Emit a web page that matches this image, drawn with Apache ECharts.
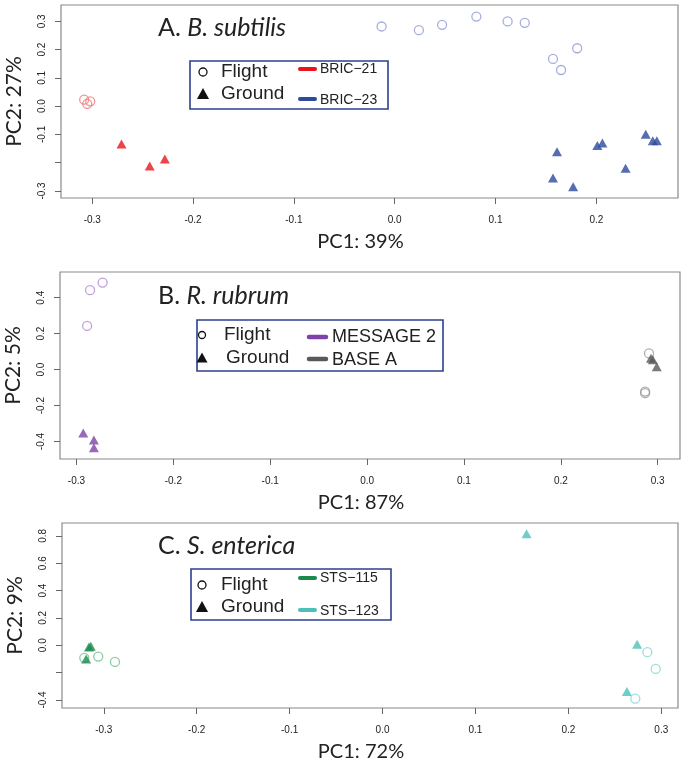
<!DOCTYPE html>
<html><head><meta charset="utf-8">
<script src="https://cdn.jsdelivr.net/npm/echarts@6/dist/echarts.min.js"></script>
<style>html,body{margin:0;padding:0;background:#fff}#c{width:685px;height:763px}</style>
</head><body><div id="c"></div><script>
// ---------- DATA ----------
// Panel A: B. subtilis
const aTitle = ['A. ', 'B. subtilis'];
const aXName = 'PC1: 39%';
const aYName = 'PC2: 27%';
const aXTicks = [-0.3, -0.2, -0.1, 0.0, 0.1, 0.2];
const aYTicks = [-0.3, -0.2, -0.1, 0.0, 0.1, 0.2, 0.3];
const aYLabels = [-0.3, -0.1, 0.0, 0.1, 0.2, 0.3];
const aGroups = ['BRIC\u221221', 'BRIC\u221223'];
const aBric21Flight = [[-0.308, 0.023], [-0.305, 0.008], [-0.302, 0.017]];
const aBric21Ground = [[-0.271, -0.134], [-0.243, -0.212], [-0.228, -0.187]];
const aBric23Flight = [[-0.013, 0.282], [0.024, 0.269], [0.047, 0.288], [0.081, 0.317], [0.112, 0.300], [0.129, 0.295], [0.157, 0.167], [0.165, 0.128], [0.181, 0.205]];
const aBric23Ground = [[0.249, -0.099], [0.256, -0.122], [0.260, -0.122], [0.201, -0.139], [0.206, -0.130], [0.161, -0.161], [0.229, -0.220], [0.157, -0.254], [0.177, -0.285]];

// Panel B: R. rubrum
const bTitle = ['B. ', 'R. rubrum'];
const bXName = 'PC1: 87%';
const bYName = 'PC2: 5%';
const bXTicks = [-0.3, -0.2, -0.1, 0.0, 0.1, 0.2, 0.3];
const bYTicks = [-0.4, -0.2, 0.0, 0.2, 0.4];
const bYLabels = [-0.4, -0.2, 0.0, 0.2, 0.4];
const bGroups = ['MESSAGE 2', 'BASE A'];
const bMessageFlight = [[-0.286, 0.442], [-0.273, 0.484], [-0.289, 0.243]];
const bMessageGround = [[-0.293, -0.353], [-0.282, -0.392], [-0.282, -0.434]];
const bBaseFlight = [[0.291, 0.090], [0.287, -0.122], [0.287, -0.131]];
const bBaseGround = [[0.293, 0.064], [0.295, 0.055], [0.299, 0.016]];

// Panel C: S. enterica
const cTitle = ['C. ', 'S. enterica'];
const cXName = 'PC1: 72%';
const cYName = 'PC2: 9%';
const cXTicks = [-0.3, -0.2, -0.1, 0.0, 0.1, 0.2, 0.3];
const cYTicks = [-0.4, -0.2, 0.0, 0.2, 0.4, 0.6, 0.8];
const cYLabels = [-0.4, 0.0, 0.2, 0.4, 0.6, 0.8];
const cGroups = ['STS\u2212115', 'STS\u2212123'];
const cSts115Flight = [[-0.321, -0.093], [-0.306, -0.083], [-0.288, -0.122]];
const cSts115Ground = [[-0.316, -0.012], [-0.314, -0.008], [-0.319, -0.100]];
const cSts123Flight = [[0.285, -0.051], [0.294, -0.173], [0.272, -0.391]];
const cSts123Ground = [[0.155, 0.816], [0.274, 0.007], [0.263, -0.338]];

const shapeNames = ['Flight', 'Ground'];

// ---------- CHART ----------
const chart = echarts.init(document.getElementById('c'), null, {renderer: 'canvas'});
const TXT = '#222';
const SANS = 'Liberation Sans, Arial, sans-serif';
const TITLEF = 'Lato, Open Sans, sans-serif';

const grids = [
  {left: 61, top: 5, width: 617, height: 193},
  {left: 60, top: 272, width: 620, height: 187},
  {left: 62, top: 523, width: 616, height: 185}
].map(g => Object.assign(g, {show: true, borderColor: '#8a8a8a', borderWidth: 1.2, backgroundColor: 'transparent', containLabel: false, outerBoundsMode: 'none'}));

function xAx(i, min, max, ticks, name) {
  return {
    type: 'value', gridIndex: i, min: min, max: max, position: 'bottom',
    axisLine: {show: false, onZero: false}, splitLine: {show: false},
    axisTick: {show: true, inside: false, length: 6, lineStyle: {color: '#666', width: 1}, customValues: ticks},
    axisLabel: {customValues: ticks, formatter: v => v.toFixed(1), fontSize: 10, color: TXT, fontFamily: SANS, margin: 17},
    name: name, nameLocation: 'middle', nameGap: 34,
    nameTextStyle: {fontFamily: TITLEF, fontSize: 20, color: TXT, padding: [0, 18, 0, 0]}
  };
}
function yAx(i, min, max, ticks, labels, name) {
  return {
    type: 'value', gridIndex: i, min: min, max: max, position: 'left',
    axisLine: {show: false, onZero: false}, splitLine: {show: false},
    axisTick: {show: true, inside: false, length: 6, lineStyle: {color: '#666', width: 1}, customValues: ticks},
    axisLabel: {customValues: labels, formatter: v => v.toFixed(1), fontSize: 10, color: TXT, fontFamily: SANS, rotate: 90, margin: 14},
    name: name, nameLocation: 'middle', nameGap: 36,
    nameTextStyle: {fontFamily: TITLEF, fontSize: 21, color: TXT}
  };
}

function circ(data, gi, color) {
  return {type: 'scatter', xAxisIndex: gi, yAxisIndex: gi, data: data, symbol: 'circle', symbolSize: 9,
    itemStyle: {color: 'rgba(255,255,255,0)', borderColor: color, borderWidth: 1.3}, silent: true, z: 3};
}
function tri(data, gi, color) {
  return {type: 'scatter', xAxisIndex: gi, yAxisIndex: gi, data: data, symbol: 'triangle', symbolSize: [10, 9],
    itemStyle: {color: color}, silent: true, z: 4};
}

function title(parts, top) {
  return {
    text: '{n|' + parts[0] + '}{i|' + parts[1] + '}', left: 153, top: top,
    textStyle: {fontWeight: 'normal', rich: {
      n: {fontFamily: TITLEF, fontSize: 25, fontWeight: 'normal', color: TXT},
      i: {fontFamily: TITLEF, fontSize: 25, fontWeight: 'normal', fontStyle: 'italic', color: TXT}
    }}
  };
}

// legend drawn as graphic
function legend(cfg) {
  const els = [];
  els.push({type: 'rect', shape: {x: cfg.x, y: cfg.y, width: cfg.w, height: cfg.h}, style: {fill: '#fff', stroke: '#2f3f8f', lineWidth: 1.6}, z: 10});
  els.push({type: 'circle', shape: {cx: cfg.sx, cy: cfg.r1, r: cfg.cr}, style: {fill: 'none', stroke: '#111', lineWidth: 1.3}, z: 11});
  const t = cfg.r2, s = cfg.ts;
  els.push({type: 'polygon', shape: {points: [[cfg.sx, t - s * 0.55], [cfg.sx - s * 0.55, t + s * 0.45], [cfg.sx + s * 0.55, t + s * 0.45]]}, style: {fill: '#111'}, z: 11});
  els.push({type: 'text', x: cfg.tx1, y: cfg.r1, style: {text: shapeNames[0], font: cfg.sf + 'px ' + SANS, fill: TXT, verticalAlign: 'middle'}, z: 11});
  els.push({type: 'text', x: cfg.tx2, y: cfg.r2, style: {text: shapeNames[1], font: cfg.sf + 'px ' + SANS, fill: TXT, verticalAlign: 'middle'}, z: 11});
  for (let k = 0; k < 2; k++) {
    els.push({type: 'line', shape: {x1: cfg.lx1, y1: cfg.ly[k], x2: cfg.lx2, y2: cfg.ly[k]}, style: {stroke: cfg.colors[k], lineWidth: cfg.lw, lineCap: 'round'}, z: 11});
    els.push({type: 'text', x: cfg.gx, y: cfg.gy[k], style: {text: cfg.groups[k], font: cfg.gf + 'px ' + SANS, fill: TXT, verticalAlign: 'middle'}, z: 11});
  }
  return els;
}

const cRed = '#e8151b', cRedL = '#f0787a', cBlue = '#2c4a9e', cBlueL = '#8e9ad8';
const cPur = '#7d43a6', cPurL = '#b487d6', cGray = '#595959', cGrayL = '#9a9a9a';
const cGrn = '#1b8a4c', cGrnL = '#6fbf8f', cTeal = '#4cc0b9', cTealL = '#85d6d2';

const graphic = [].concat(
  legend({x: 190, y: 61, w: 198, h: 48, sx: 203, cr: 4, ts: 11, r1: 72, r2: 94, tx1: 221, tx2: 221, sf: 19,
    lx1: 300, lx2: 315, ly: [69, 99], gx: 320, gy: [69, 100], gf: 14, lw: 4, colors: [cRed, cBlue], groups: aGroups}),
  legend({x: 197, y: 320, w: 246, h: 51, sx: 202, cr: 3.5, ts: 10, r1: 335, r2: 358, tx1: 224, tx2: 226, sf: 19,
    lx1: 309, lx2: 326, ly: [337, 359], gx: 332, gy: [337, 360], gf: 18, lw: 4.5, colors: [cPur, cGray], groups: bGroups}),
  legend({x: 191, y: 569, w: 200, h: 51, sx: 202, cr: 4, ts: 11, r1: 585, r2: 607, tx1: 221, tx2: 221, sf: 19,
    lx1: 300, lx2: 315, ly: [578, 610], gx: 320, gy: [578, 611], gf: 14, lw: 4, colors: [cGrn, cTeal], groups: cGroups})
);

chart.setOption({
  animation: false,
  backgroundColor: '#fff',
  title: [title(aTitle, 10), title(bTitle, 278), title(cTitle, 528)],
  grid: grids,
  xAxis: [
    xAx(0, -0.331, 0.281, aXTicks, aXName),
    xAx(1, -0.317, 0.323, bXTicks, bXName),
    xAx(2, -0.345, 0.318, cXTicks, cXName)
  ],
  yAxis: [
    yAx(0, -0.325, 0.358, aYTicks, aYLabels, aYName),
    yAx(1, -0.497, 0.543, bYTicks, bYLabels, bYName),
    yAx(2, -0.459, 0.894, cYTicks, cYLabels, cYName)
  ],
  series: [
    circ(aBric21Flight, 0, cRedL), tri(aBric21Ground, 0, cRed),
    circ(aBric23Flight, 0, cBlueL), tri(aBric23Ground, 0, cBlue),
    circ(bMessageFlight, 1, cPurL), tri(bMessageGround, 1, cPur),
    circ(bBaseFlight, 1, cGrayL), tri(bBaseGround, 1, cGray),
    circ(cSts115Flight, 2, cGrnL), tri(cSts115Ground, 2, cGrn),
    circ(cSts123Flight, 2, cTealL), tri(cSts123Ground, 2, cTeal)
  ],
  graphic: graphic
});
</script></body></html>
